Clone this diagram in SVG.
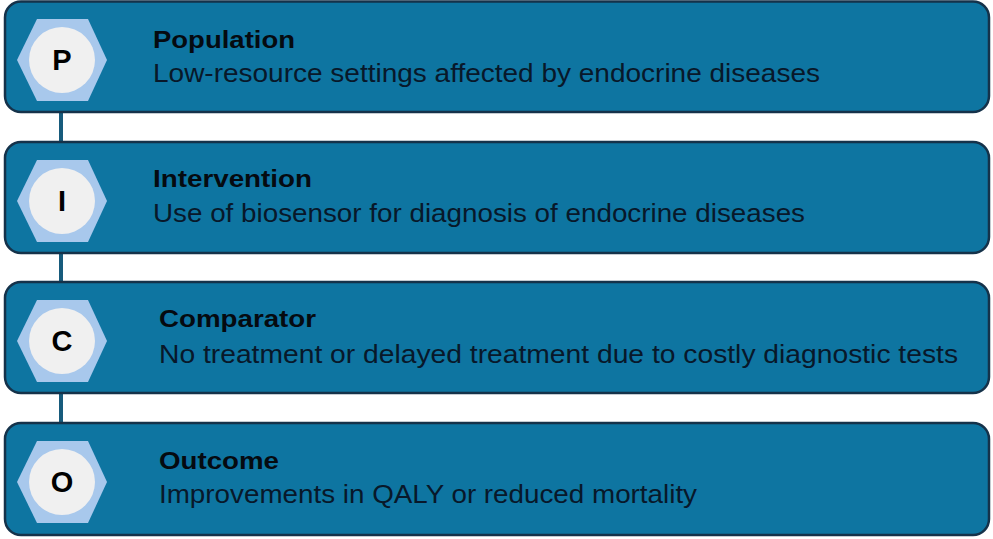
<svg xmlns="http://www.w3.org/2000/svg" width="993" height="539" viewBox="0 0 993 539">
<defs>
<style>
.box{fill:#0e75a1;stroke:#15324a;stroke-width:2.5}
.hex{fill:#a8c8ec}
.circ{fill:#f0f0f0}
.letter{font-family:"Liberation Sans",Arial,sans-serif;font-weight:bold;font-size:29px;fill:#000;text-anchor:middle}
.title{font-family:"Liberation Sans",Arial,sans-serif;font-weight:bold;font-size:24px;fill:#050a10}
.sub{font-family:"Liberation Sans",Arial,sans-serif;font-size:25px;fill:#08182a}
.conn{stroke:#175b7c;stroke-width:4;fill:none}
</style>
<polygon id="hexshape" points="-45,0 -25,-41 26,-41 45,0 26,41 -25,41"/>
</defs>
<rect width="993" height="539" fill="#ffffff"/>
<g id="connectors">
<line class="conn" x1="61" y1="112" x2="61" y2="142"/>
<line class="conn" x1="61" y1="253" x2="61" y2="282"/>
<line class="conn" x1="61" y1="393" x2="61" y2="423"/>
</g>
<g id="node-P">
<rect class="box" x="5" y="1.5" width="984" height="110.5" rx="16"/>
<use href="#hexshape" class="hex" x="62" y="60"/>
<circle class="circ" cx="62" cy="60" r="33"/>
<text class="letter" x="62" y="70">P</text>
<text class="title" x="153" y="48" textLength="142" lengthAdjust="spacingAndGlyphs">Population</text>
<text class="sub" x="153" y="82" textLength="667" lengthAdjust="spacingAndGlyphs">Low-resource settings affected by endocrine diseases</text>
</g>
<g id="node-I">
<rect class="box" x="5" y="142" width="984" height="111" rx="16"/>
<use href="#hexshape" class="hex" x="62" y="201"/>
<circle class="circ" cx="62" cy="201" r="33"/>
<text class="letter" x="62" y="211">I</text>
<text class="title" x="153" y="187" textLength="159" lengthAdjust="spacingAndGlyphs">Intervention</text>
<text class="sub" x="153" y="222" textLength="652" lengthAdjust="spacingAndGlyphs">Use of biosensor for diagnosis of endocrine diseases</text>
</g>
<g id="node-C">
<rect class="box" x="5" y="282" width="984" height="111" rx="16"/>
<use href="#hexshape" class="hex" x="62" y="341"/>
<circle class="circ" cx="62" cy="341" r="33"/>
<text class="letter" x="62" y="351">C</text>
<text class="title" x="159" y="327" textLength="157" lengthAdjust="spacingAndGlyphs">Comparator</text>
<text class="sub" x="159" y="363" textLength="799" lengthAdjust="spacingAndGlyphs">No treatment or delayed treatment due to costly diagnostic tests</text>
</g>
<g id="node-O">
<rect class="box" x="5" y="423" width="984" height="112" rx="16"/>
<use href="#hexshape" class="hex" x="62" y="482"/>
<circle class="circ" cx="62" cy="482" r="33"/>
<text class="letter" x="62" y="492">O</text>
<text class="title" x="159" y="469" textLength="120" lengthAdjust="spacingAndGlyphs">Outcome</text>
<text class="sub" x="159" y="503" textLength="538" lengthAdjust="spacingAndGlyphs">Improvements in QALY or reduced mortality</text>
</g>
</svg>
